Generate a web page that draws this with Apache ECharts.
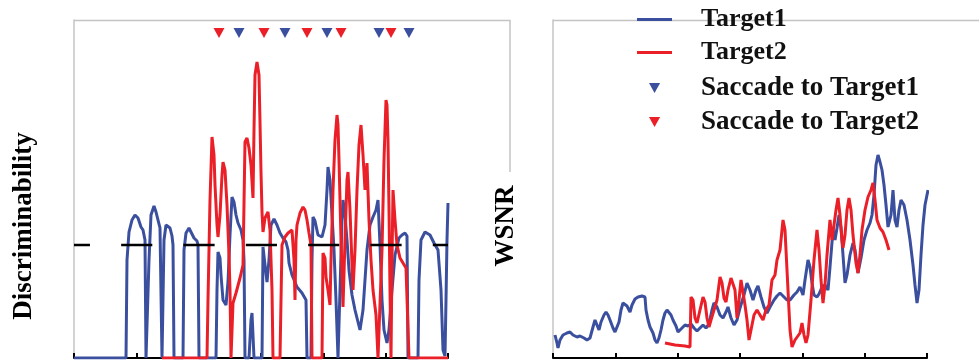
<!DOCTYPE html>
<html>
<head>
<meta charset="utf-8">
<script src="https://cdn.jsdelivr.net/npm/echarts@6/dist/echarts.min.js"></script>
<style>html,body{margin:0;padding:0;background:#fff;}#c{width:979px;height:362px;}</style>
</head>
<body>
<div id="c"></div>
<script>
// ---- Data (x: time samples, y: value) ----
const discTarget1 = [[0,0],[52,0],[53,0.98],[55,1.26],[58,1.38],[61,1.43],[64,1.40],[67,1.31],[69,1.28],[71,1.18],[72,0],[74,0],[75,0.98],[77,1.43],[80,1.52],[82,1.46],[84,1.38],[86,1.30],[88,0],[89,0],[90,1.18],[92,1.33],[94,1.35],[96,1.30],[98,1.22],[99,1.13],[100,0],[109,0],[110,1.08],[112,1.25],[115,1.30],[117,1.28],[120,1.20],[123,1.17],[124,1.13],[125,0],[142,0],[143,0.68],[144,1.06],[146,1.00],[147,0.83],[149,0.58],[152,0.53],[154,0.76],[156,1.23],[158,1.61],[160,1.56],[162,1.43],[164,1.35],[167,1.28],[169,1.18],[170,0.98],[171,0],[175,0],[177,0.38],[178,0.45],[180,0],[188,0],[189,1.11],[191,0.93],[193,0.76],[195,0.98],[197,1.33],[200,1.39],[203,1.33],[206,1.25],[209,1.20],[212,1.16],[214,1.08],[215,0.95],[218,0.83],[223,0.71],[228,0.65],[232,0.58],[233,0],[237,0],[238,0.98],[239,1.41],[241,1.37],[244,1.23],[248,1.21],[251,1.33],[253,1.68],[254,1.91],[256,1.78],[258,1.43],[260,1.08],[262,0.58],[264,0],[266,0.68],[268,1.38],[269,1.58],[271,1.43],[273,1.18],[275,0.88],[278,0.63],[281,0.48],[284,0.36],[286,0.28],[289,0.48],[291,0.78],[293,1.08],[296,1.33],[299,1.41],[302,1.48],[304,1.58],[306,1.13],[308,0.58],[310,0.28],[313,0.15],[315,0.28],[318,0.68],[321,1.03],[325,1.20],[328,1.23],[331,1.25],[333,1.22],[334,0],[344,0],[345,0.78],[347,1.18],[351,1.26],[356,1.23],[360,1.15],[364,1.08],[367,0.68],[369,0.08],[371,0.02],[372,0.58],[373,1.18],[374,1.55]];
const discTarget2 = [[88,0],[133,0],[134,0.58],[136,1.58],[138,2.21],[140,2.03],[141,1.73],[143,1.33],[144,1.21],[146,1.43],[148,1.83],[149,1.96],[151,1.88],[153,1.53],[155,1.03],[156,0.68],[157,0],[158,0],[159,0.55],[162,0.65],[166,0.80],[169,0.93],[171,2.16],[173,2.20],[175,2.10],[177,1.93],[179,1.60],[180,2.28],[181,2.83],[183,2.96],[185,2.83],[186,2.36],[187,1.86],[188,1.46],[189,1.26],[191,1.40],[194,1.46],[196,1.28],[198,0.68],[199,0],[206,0],[207,0.58],[208,1.13],[211,1.21],[214,1.25],[218,1.28],[220,0.98],[221,0.58],[222,1.18],[223,1.33],[226,1.45],[229,1.51],[231,1.48],[233,1.38],[235,1.25],[237,1.13],[238,0],[248,0],[249,1.05],[251,1.00],[252,0.81],[254,0.68],[256,0.53],[257,0.98],[259,1.68],[261,2.18],[263,2.43],[264,2.33],[265,1.98],[267,1.18],[269,0.51],[271,1.18],[273,1.78],[274,1.86],[276,1.48],[278,0.93],[279,0.68],[281,1.08],[283,1.68],[285,2.13],[287,2.33],[289,2.03],[291,1.68],[293,1.95],[295,1.38],[297,0.98],[299,0.68],[302,0.43],[304,0],[306,0],[308,1.08],[310,1.98],[312,2.58],[313,2.53],[314,2.18],[315,1.48],[316,0.68],[317,0],[318,0.98],[319,1.68],[321,1.38],[323,1.13],[326,1.00],[329,0.95],[332,0.90],[334,0.88],[335,0],[374,0]];
const discThreshold = 1.13;
const saccadeT1Times = [165, 211, 253, 305, 335];
const saccadeT2Times = [145, 190, 233, 267, 317];
const saccadeLevel = 3.25;

const wsnrTarget1 = [[2,2.3],[4,1.5],[5,1.0],[7,1.8],[10,2.3],[12,2.1],[14,2.5],[17,2.6],[20,2.3],[24,2.1],[27,2.2],[31,2.0],[34,1.8],[37,2.0],[40,3.1],[42,3.8],[44,3.6],[46,2.8],[48,3.6],[51,4.3],[53,4.6],[55,4.3],[57,3.8],[60,3.0],[62,2.6],[64,2.8],[66,3.6],[68,4.8],[70,5.5],[72,5.6],[74,5.2],[77,4.6],[79,5.3],[82,5.9],[85,6.1],[89,6.2],[92,6.1],[93,4.8],[95,3.8],[97,3.1],[100,2.5],[102,1.8],[104,1.5],[106,2.0],[108,2.8],[110,3.8],[112,4.5],[114,4.8],[116,4.6],[118,4.3],[120,3.8],[123,3.2],[125,2.6],[127,2.5],[129,3.0],[132,3.3],[135,3.2],[138,3.4],[141,3.0],[144,2.7],[147,3.0],[150,3.3],[153,3.0],[156,3.4],[159,4.8],[161,5.5],[164,5.1],[167,4.3],[170,4.0],[173,4.6],[175,5.1],[178,4.0],[181,3.3],[184,3.8],[187,5.0],[191,6.3],[194,7.5],[197,6.8],[200,5.8],[203,6.8],[205,7.2],[208,6.1],[211,5.1],[214,4.5],[217,5.1],[221,5.8],[224,6.2],[227,6.5],[231,6.1],[234,5.8],[237,5.8],[241,6.3],[244,6.6],[247,7.1],[250,6.3],[252,7.8],[255,9.8],[257,9.1],[259,7.5],[261,6.3],[264,6.1],[266,6.4],[269,7.1],[272,7.3],[275,6.8],[277,9.1],[280,12.8],[282,11.8],[284,13.0],[286,14.3],[288,13.0],[290,10.3],[292,7.5],[294,8.3],[297,10.3],[300,11.5],[302,10.8],[305,8.5],[308,10.0],[311,11.8],[314,12.8],[317,13.5],[319,14.3],[321,16.3],[323,19.3],[325,20.3],[327,19.6],[329,18.8],[331,17.3],[333,15.3],[335,13.1],[337,13.3],[338,14.3],[340,16.8],[342,13.8],[344,13.1],[346,14.8],[348,15.8],[351,15.3],[354,13.8],[357,11.8],[360,9.3],[362,7.3],[364,5.5],[366,6.8],[368,10.3],[370,13.3],[372,15.3],[374,16.3],[375,16.8]];
const wsnrTarget2 = [[112,1.5],[122,1.3],[132,1.2],[137,1.1],[138,6.1],[140,5.8],[142,4.0],[144,3.5],[147,4.8],[150,6.1],[152,5.6],[154,4.0],[156,3.1],[158,3.8],[161,4.8],[164,5.8],[167,8.1],[169,7.5],[171,6.0],[173,5.6],[175,6.8],[178,8.0],[180,8.1],[182,6.8],[184,4.0],[186,5.8],[188,7.8],[190,7.6],[192,5.3],[194,3.8],[196,1.8],[198,2.8],[201,4.3],[204,4.8],[207,4.3],[210,3.8],[213,4.8],[216,5.3],[219,7.8],[222,8.3],[224,9.8],[227,10.8],[230,13.8],[232,12.8],[233,10.8],[235,6.8],[237,2.8],[239,1.1],[242,1.8],[244,2.0],[247,2.5],[249,3.5],[251,2.3],[253,1.5],[255,2.3],[258,5.8],[261,9.8],[264,12.8],[266,10.8],[268,7.8],[270,5.5],[272,7.3],[274,10.3],[277,13.8],[279,11.8],[281,13.3],[283,14.8],[285,16.0],[287,14.3],[289,11.8],[290,11.0],[292,12.3],[294,14.8],[296,16.0],[298,14.8],[300,12.3],[303,9.5],[305,8.5],[307,10.3],[309,12.8],[312,14.8],[315,16.1],[318,16.8],[320,17.5],[322,15.8],[324,13.8],[327,13.0],[330,12.6],[333,11.8],[336,10.8]];

const legendLines = ['Target1', 'Target2'];
const legendSaccades = ['Saccade to Target1', 'Saccade to Target2'];

// ---- Styling ----
const BLUE = '#3b4f9f';
const RED = '#ea1f27';
const FRAME = '#c4c4c4';
const FONT = 'Liberation Serif';
const xMax = 374;
const xInterval = xMax / 6;
const TRI = 'path://M0,0L10,0L5,9Z';

function xAxisCfg(gi) {
  return {
    type: 'value', gridIndex: gi, min: 0, max: xMax, interval: xInterval,
    axisLine: { show: true, onZero: false, lineStyle: { color: '#000', width: 2 } },
    axisTick: { show: true, inside: true, length: 5, lineStyle: { color: '#000', width: 2 } },
    axisLabel: { show: false }, splitLine: { show: false }
  };
}
function yAxisCfg(gi, max, name, gap) {
  return {
    type: 'value', gridIndex: gi, min: 0, max: max,
    name: name, nameLocation: 'middle', nameGap: gap, nameRotate: 90,
    nameTextStyle: { fontFamily: FONT, fontWeight: 'bold', fontSize: 27, color: '#000', padding: [0, 74, 0, 0] },
    axisLine: { show: true, lineStyle: { color: FRAME, width: 1.5 } },
    axisTick: { show: false }, axisLabel: { show: false }, splitLine: { show: false }
  };
}

const chart = echarts.init(document.getElementById('c'), null, { renderer: 'canvas' });
chart.setOption({
  animation: false,
  backgroundColor: '#fff',
  grid: [
    { left: 74, top: 20, width: 374, height: 338 },
    { left: 553, top: 20, width: 374, height: 338 }
  ],
  graphic: [
    { type: 'polyline', z: 0, shape: { points: [[74, 20.5], [510, 20.5], [510, 172]] }, style: { stroke: FRAME, lineWidth: 1.5, fill: null } },
    { type: 'line', z: 0, shape: { x1: 553, y1: 20.5, x2: 979, y2: 20.5 }, style: { stroke: FRAME, lineWidth: 1.5 } }
  ],
  legend: [
    {
      data: legendLines, orient: 'vertical', left: 637, top: 3, padding: 0, itemGap: 0,
      icon: 'rect', itemWidth: 35, itemHeight: 3,
      textStyle: { fontFamily: FONT, fontWeight: 'bold', fontSize: 26, color: '#111', lineHeight: 33, padding: [0, 0, 0, 24] }
    },
    {
      data: legendSaccades, orient: 'vertical', left: 649, top: 71, padding: 0, itemGap: 0,
      icon: TRI, itemWidth: 35, itemHeight: 10,
      textStyle: { fontFamily: FONT, fontWeight: 'bold', fontSize: 27, color: '#111', lineHeight: 34, padding: [0, 0, 0, 24] }
    }
  ],
  xAxis: [xAxisCfg(0), xAxisCfg(1)],
  yAxis: [yAxisCfg(0, 3.38, 'Discriminability', 36), yAxisCfg(1, 33.8, 'WSNR', 33)],
  series: [
    { name: 'Target1', type: 'line', xAxisIndex: 0, yAxisIndex: 0, data: discTarget1, showSymbol: false, symbol: 'none',
      lineStyle: { color: BLUE, width: 3 }, itemStyle: { color: BLUE }, z: 2 },
    { name: 'Target2', type: 'line', xAxisIndex: 0, yAxisIndex: 0, data: discTarget2, showSymbol: false, symbol: 'none',
      lineStyle: { color: RED, width: 3 }, itemStyle: { color: RED }, z: 3 },
    { name: 'threshold', type: 'line', xAxisIndex: 0, yAxisIndex: 0, data: [[0, discThreshold], [xMax, discThreshold]],
      symbol: 'none', silent: true, z: 4,
      lineStyle: { color: '#000', width: 2.5, type: [xInterval / 2, xInterval / 2], dashOffset: 15.2 } },
    { name: 'Saccade to Target1', type: 'scatter', xAxisIndex: 0, yAxisIndex: 0,
      data: saccadeT1Times.map(t => [t, saccadeLevel]), symbol: TRI, symbolSize: [11, 10], itemStyle: { color: BLUE, opacity: 1 }, z: 5 },
    { name: 'Saccade to Target2', type: 'scatter', xAxisIndex: 0, yAxisIndex: 0,
      data: saccadeT2Times.map(t => [t, saccadeLevel]), symbol: TRI, symbolSize: [11, 10], itemStyle: { color: RED, opacity: 1 }, z: 5 },
    { name: 'Target1', type: 'line', xAxisIndex: 1, yAxisIndex: 1, data: wsnrTarget1, showSymbol: false, symbol: 'none',
      lineStyle: { color: BLUE, width: 3 }, itemStyle: { color: BLUE }, z: 2 },
    { name: 'Target2', type: 'line', xAxisIndex: 1, yAxisIndex: 1, data: wsnrTarget2, showSymbol: false, symbol: 'none',
      lineStyle: { color: RED, width: 3 }, itemStyle: { color: RED }, z: 3 }
  ]
});
</script>
</body>
</html>
